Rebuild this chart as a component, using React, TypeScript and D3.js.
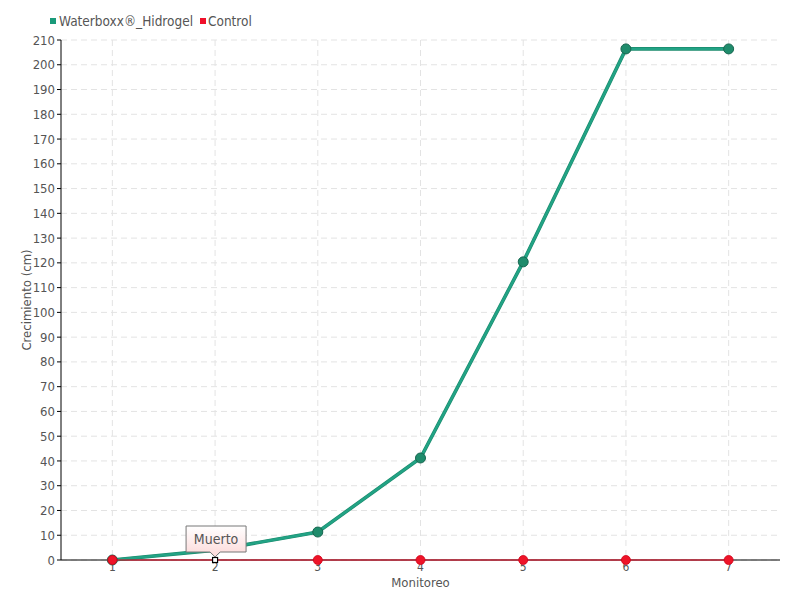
import React from "react";
import * as d3 from "d3";

const categories = [1, 2, 3, 4, 5, 6, 7];
const waterboxx = [0, 4, 11.3, 41.2, 120.4, 206.4, 206.4];
const control = [0, 0, 0, 0, 0, 0, 0];
const yTicks = d3.range(0, 211, 10);
const seriesNames = ["Waterboxx®_Hidrogel", "Control"];
const tooltipText = "Muerto";

const FONT = "'DejaVu Sans Condensed', 'DejaVu Sans', sans-serif";

export default function App() {
  const W = 800, H = 600;
  const left = 61, right = 780, top = 40, bottom = 560;
  const x = d3.scaleLinear().domain([0.5, 7.5]).range([left, right]);
  const y = d3.scaleLinear().domain([0, 210]).range([bottom, top]);
  const line = d3.line<number>().x((_, i) => x(categories[i])).y((d) => y(d));
  const tipX = x(categories[1]);
  const tipY = y(control[1]);
  return (
    <svg width={W} height={H} style={{ position: "absolute", left: 0, top: 0, background: "#fff" }} fontFamily={FONT}>
      {/* grid */}
      {yTicks.map((t) => (
        <line key={"gy" + t} x1={left} x2={right} y1={y(t)} y2={y(t)} stroke="#e3e3e3" strokeDasharray="6,4" />
      ))}
      {categories.map((c) => (
        <line key={"gx" + c} x1={x(c)} x2={x(c)} y1={top} y2={bottom} stroke="#e3e3e3" strokeDasharray="6,4" />
      ))}
      {/* axes */}
      <line x1={left} x2={left} y1={top} y2={bottom} stroke="#000" />
      <line x1={left} x2={right} y1={bottom} y2={bottom} stroke="#000" />
      {yTicks.map((t) => (
        <g key={"ty" + t}>
          <line x1={left - 4} x2={left} y1={y(t)} y2={y(t)} stroke="#000" />
          <text x={left - 6} y={y(t)} dy="0.35em" textAnchor="end" fontSize={13} fill="#555">
            {t}
          </text>
        </g>
      ))}
      {categories.map((c) => (
        <text key={"tx" + c} x={x(c)} y={bottom + 11} textAnchor="middle" fontSize={12} fill="#555">
          {c}
        </text>
      ))}
      <text x={(left + right) / 2} y={587} textAnchor="middle" fontSize={13} fill="#555">Monitoreo</text>
      <text transform={`translate(31,${(top + bottom) / 2}) rotate(-90)`} textAnchor="middle" fontSize={13} fill="#555">
        Crecimiento (cm)
      </text>
      {/* legend */}
      <rect x={50} y={18} width={6} height={6} fill="#1a9a7a" />
      <text x={59} y={26} fontSize={13.5} fill="#555">{seriesNames[0]}</text>
      <rect x={200} y={18} width={6} height={6} fill="#f0102a" />
      <text x={208} y={26} fontSize={13.5} fill="#555">{seriesNames[1]}</text>
      {/* waterboxx line */}
      <path d={line(waterboxx) || ""} fill="none" stroke="#1a8a6c" strokeWidth={3.6} />
      <path d={line(waterboxx) || ""} fill="none" stroke="#22a385" strokeWidth={2.4} />
      {waterboxx.map((v, i) => (
        <circle key={"w" + i} cx={x(categories[i])} cy={y(v)} r={5} fill="#1f8c6c" stroke="#176650" strokeWidth={1} />
      ))}
      {/* control line */}
      <path d={line(control) || ""} fill="none" stroke="#e8001c" strokeWidth={1.2} />
      {control.map((v, i) =>
        i === 1 ? (
          <rect key={"c" + i} x={x(categories[i]) - 2.5} y={y(v) - 2.5} width={5} height={5} fill="#fff" stroke="#000" strokeWidth={1.2} />
        ) : (
          <circle key={"c" + i} cx={x(categories[i])} cy={y(v)} r={4.5} fill="#ee1428" stroke="#d00018" strokeWidth={0.8} />
        )
      )}
      {/* tooltip */}
      <defs>
        <linearGradient id="tipg" x1="0" x2="0" y1="0" y2="1">
          <stop offset="0" stopColor="#ffffff" />
          <stop offset="1" stopColor="#fcd8d8" />
        </linearGradient>
      </defs>
      <path
        d={`M${tipX - 29},${tipY - 34} H${tipX + 31} V${tipY - 8} H${tipX + 5} L${tipX},${tipY - 3} L${tipX - 5},${tipY - 8} H${tipX - 29} Z`}
        fill="url(#tipg)"
        stroke="#777"
        strokeWidth={1}
      />
      <text x={tipX + 1} y={tipY - 16} textAnchor="middle" fontSize={14} fill="#555">{tooltipText}</text>
    </svg>
  );
}
